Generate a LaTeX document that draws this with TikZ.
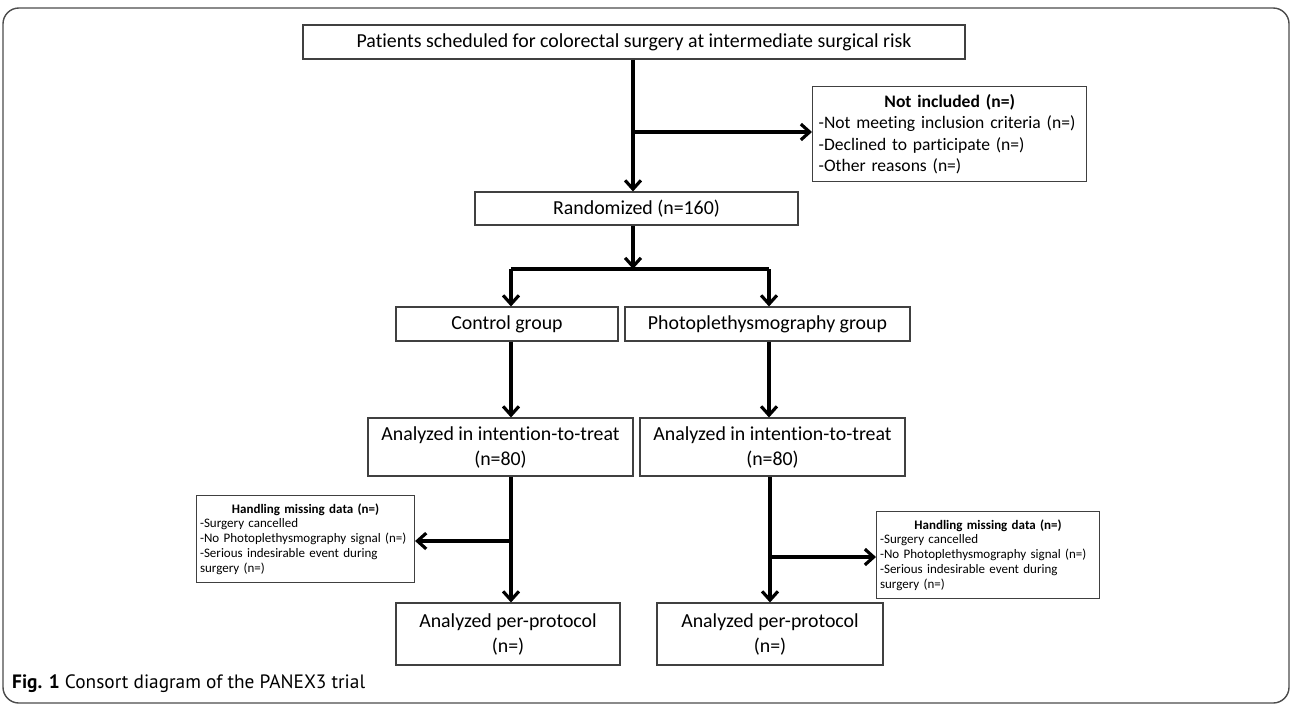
\documentclass[tikz,border=0pt]{standalone}
\usepackage{fontspec}
\setmainfont{Carlito}[Ligatures=NoCommon]
\newfontfamily\capfont{PT Sans}
\usetikzlibrary{arrows.meta}

\tikzset{
	box/.style={draw=black!75, line width=0.6pt, align=center, inner sep=2pt,
		font=\fontsize{11.3}{14.2}\selectfont},
	notebox/.style={draw=black!75, line width=0.6pt, align=left, anchor=north west,
		inner xsep=3.5pt, inner ysep=2pt},
	arr/.style={line width=1.8pt, -{Straight Barb[length=5pt,width=9pt,line width=1.8pt]}},
	flow/.style={line width=1.8pt}
}

\begin{document}
\begin{tikzpicture}[x=0.02cm,y=-0.02cm]
	\useasboundingbox (0,0) rectangle (1290,704);
	% frame and caption
	\draw[black!70, line width=0.8pt, rounded corners=9pt] (3,8) rectangle (1289,703);
	\node[anchor=west, font=\capfont\fontsize{11}{13}\selectfont] (caption) at (6,684) {\textbf{Fig. 1} Consort diagram of the PANEX3 trial};

	% boxes
	\node[box, minimum width=662*0.02cm, minimum height=34*0.02cm] (patients) at (634,42) {Patients scheduled for colorectal surgery at intermediate surgical risk};
	\node[notebox, font=\fontsize{10}{12.2}\selectfont, text width=262*0.02cm, minimum height=95*0.02cm] (excl) at (812,86) {%
		\hfill\textbf{Not included (n=)}\hfill\null\\
		-Not meeting inclusion criteria (n=)\\
		-Declined to participate (n=)\\
		-Other reasons (n=)};
	\node[box, minimum width=323*0.02cm, minimum height=33*0.02cm] (random) at (636.5,208.5) {Randomized (n=160)};
	\node[box, minimum width=222*0.02cm, minimum height=34*0.02cm] (control) at (507,324) {Control group};
	\node[box, minimum width=285*0.02cm, minimum height=34*0.02cm] (photo) at (767.5,324) {Photoplethysmography group};
	\node[box, minimum width=265*0.02cm, minimum height=58*0.02cm] (ittctl) at (500.5,447) {Analyzed in intention-to-treat\\(n=80)};
	\node[box, minimum width=265*0.02cm, minimum height=58*0.02cm] (ittppg) at (772.5,447) {Analyzed in intention-to-treat\\(n=80)};
	\node[notebox, font=\fontsize{7.4}{8.4}\selectfont, text width=211*0.02cm, minimum height=87*0.02cm, inner xsep=2pt] (missctl) at (196,495) {%
		\hfill\textbf{Handling missing data (n=)}\hfill\null\\
		-Surgery cancelled\\
		-No Photoplethysmography signal (n=)\\
		-Serious indesirable event during\\
		surgery (n=)};
	\node[notebox, font=\fontsize{7.4}{8.4}\selectfont, text width=216*0.02cm, minimum height=87*0.02cm, inner xsep=2pt] (missppg) at (876,511) {%
		\hfill\textbf{Handling missing data (n=)}\hfill\null\\
		-Surgery cancelled\\
		-No Photoplethysmography signal (n=)\\
		-Serious indesirable event during\\
		surgery (n=)};
	\node[box, minimum width=224*0.02cm, minimum height=62*0.02cm] (ppctl) at (508,634) {Analyzed per-protocol\\(n=)};
	\node[box, minimum width=226*0.02cm, minimum height=62*0.02cm] (ppppg) at (770,634) {Analyzed per-protocol\\(n=)};

	% junctions
	\coordinate (jexcl) at (633,132);
	\coordinate (jsplit) at (633,269);
	\coordinate (jctl) at (511,269);
	\coordinate (jppg) at (769,269);
	\coordinate (jmissctl) at (511,541);
	\coordinate (jmissppg) at (770,557);

	% connectors
	\draw[arr] (patients.south -| jexcl) -- (random.north -| jexcl);
	\draw[arr] (jexcl) -- (excl.west |- jexcl);
	\draw[arr] (random.south -| jsplit) -- (jsplit);
	\draw[flow] (jctl) -- (jppg);
	\draw[arr] (jctl) -- (control.north -| jctl);
	\draw[arr] (jppg) -- (photo.north -| jppg);
	\draw[arr] (control.south -| jctl) -- (ittctl.north -| jctl);
	\draw[arr] (photo.south -| jppg) -- (ittppg.north -| jppg);
	\draw[arr] (ittctl.south -| jmissctl) -- (ppctl.north -| jmissctl);
	\draw[arr] (ittppg.south -| jmissppg) -- (ppppg.north -| jmissppg);
	\draw[arr] (jmissctl) -- (missctl.east |- jmissctl);
	\draw[arr] (jmissppg) -- (missppg.west |- jmissppg);
\end{tikzpicture}
\end{document}
